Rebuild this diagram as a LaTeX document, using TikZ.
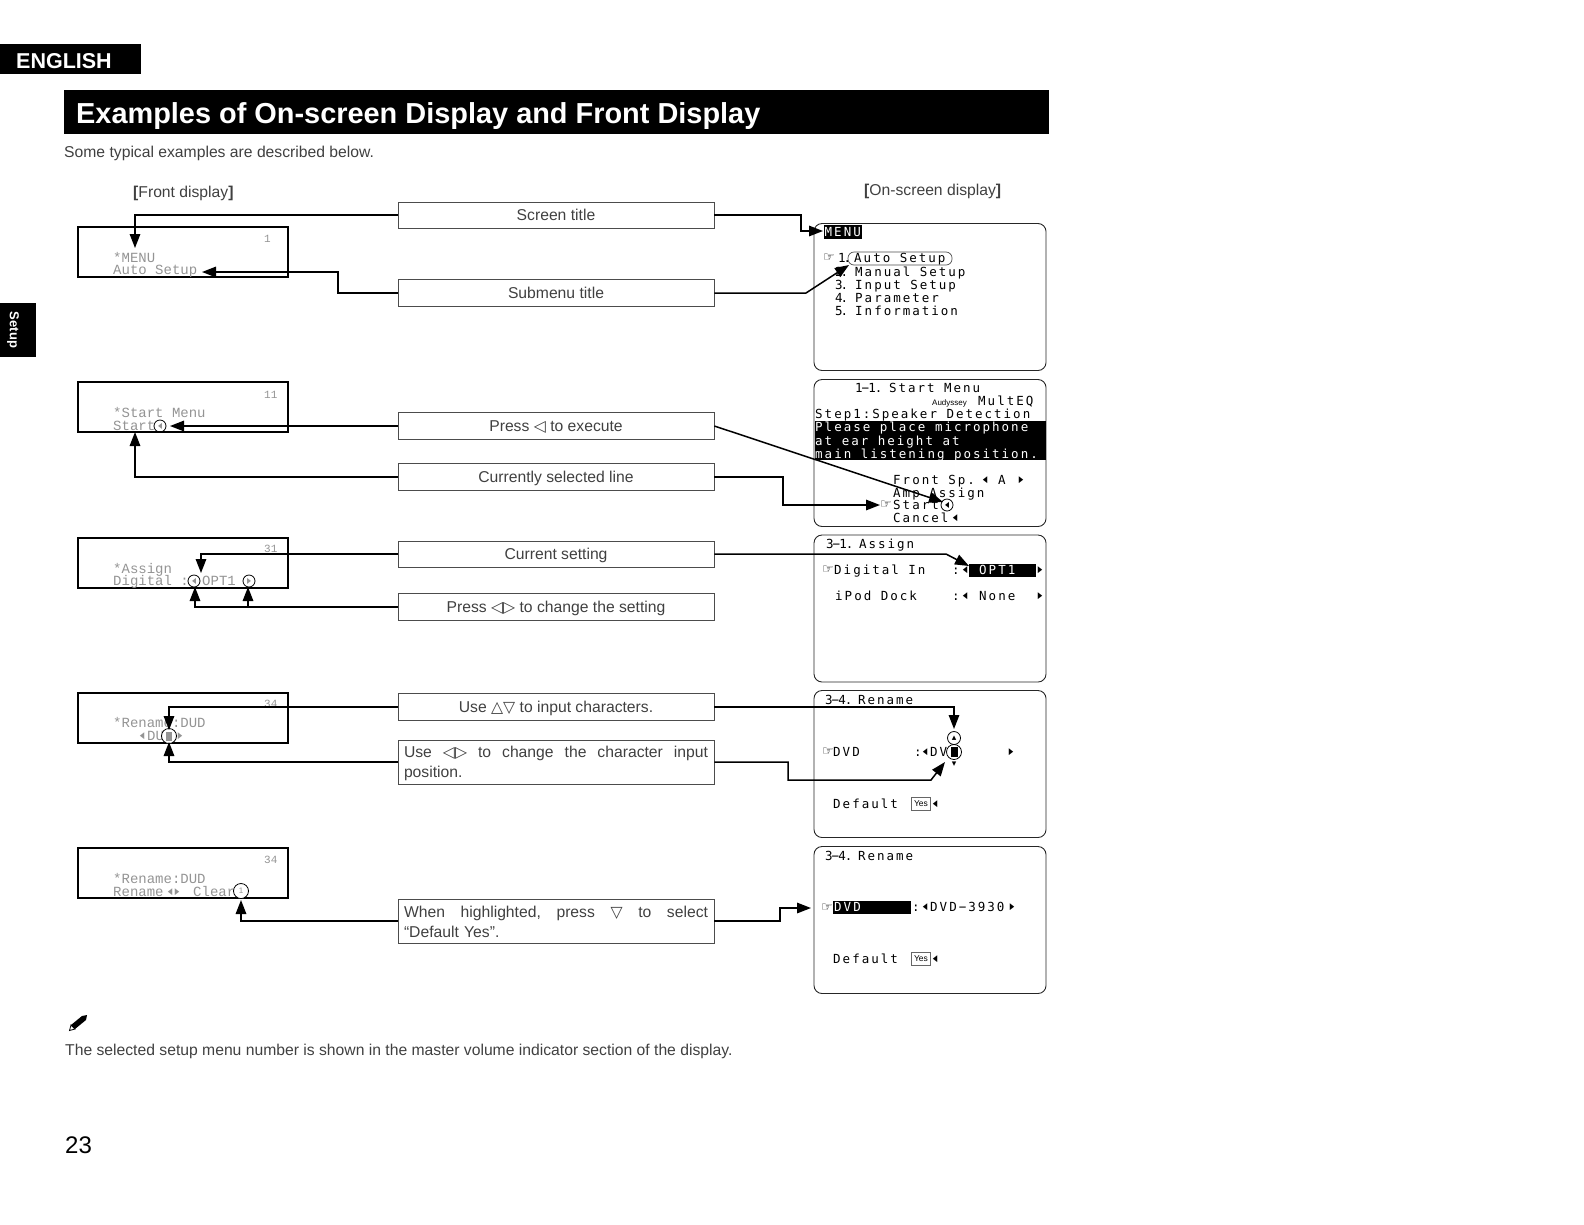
\documentclass[tikz,border=0pt]{standalone}
\usepackage{graphicx}
\usepackage{fontspec}
\setmainfont{Liberation Sans}
\newfontfamily\symfont{DejaVu Sans}
\newfontfamily\osdfont[LetterSpace=16]{DejaVu Sans Mono}
\newfontfamily\vfdfont{Liberation Mono}
\usetikzlibrary{arrows.meta}
\definecolor{inkgray}{gray}{0.25}
\definecolor{vfdgray}{gray}{0.58}
\newcommand{\larr}{\scalebox{.65}[1]{◀}}
\newcommand{\rarr}{\scalebox{.65}[1]{▶}}
\newcommand{\twoline}[1]{\raisebox{-1pt}[\height][\depth]{\parbox{304pt}{\fontsize{15.7}{20}\selectfont #1}}}
\tikzset{
	front/.style={draw=black, line width=1.1pt, minimum width=210pt, minimum height=50pt, inner sep=0pt},
	screen/.style={draw=black!85, line width=0.9pt, rounded corners=8pt, minimum width=232pt, minimum height=147pt, inner sep=0pt},
	caption/.style={draw=black!70, line width=0.7pt, minimum width=316pt, inner sep=0pt, text=inkgray, font=\fontsize{15.7}{20}\selectfont},
	capone/.style={caption, text height=12.5pt, text depth=2.5pt},
	captwo/.style={caption, minimum height=44pt, text width=304pt, align=left},
	conn/.style={line width=1.5pt, -{Triangle[length=14pt,width=10.5pt]}},
	plain/.style={anchor=base west, inner sep=0pt, text=inkgray, font=\fontsize{15.7}{18}\selectfont},
	osd/.style={anchor=base west, inner sep=0pt, yshift=-4.5pt, font=\fontsize{12.5}{14}\osdfont\selectfont},
	vfd/.style={anchor=base west, inner sep=0pt, yshift=-4.5pt, text=vfdgray, font=\fontsize{14}{14}\vfdfont\selectfont},
	vfdnum/.style={vfd, font=\fontsize{11}{11}\vfdfont\selectfont},
	sym/.style={inner sep=0pt, font=\fontsize{9}{9}\symfont\selectfont},
	hand/.style={inner sep=0pt, font=\fontsize{13}{13}\symfont\selectfont},
	ring/.style={circle, draw=black, line width=0.8pt, inner sep=0pt, minimum size=#1},
	vfdring/.style={ring=#1, text=vfdgray, font=\fontsize{8}{8}\symfont\selectfont},
	band/.style={fill=black, inner sep=0pt},
	yesbox/.style={draw=black!60, line width=1pt, minimum width=19pt, minimum height=13pt, inner sep=0pt, font=\fontsize{8.5}{9}\selectfont}
}
\begin{document}
\begin{tikzpicture}[x=1pt,y=-1pt]
	\useasboundingbox (0,0) rectangle (1584,1224);

	% Page head
	\fill (0,44) rectangle (141,74);
	\node[anchor=base west, inner sep=0pt, text=white, font=\fontsize{21.5}{26}\bfseries\selectfont] (lang) at (16,68.5) {ENGLISH};
	\fill (64,90) rectangle (1049,134);
	\node[anchor=base west, inner sep=0pt, text=white, font=\fontsize{28.9}{32}\bfseries\selectfont] (title) at (76,123) {Examples of On-screen Display and Front Display};
	\fill (0,303) rectangle (36,357);
	\node[rotate=-90, inner sep=0pt, text=white, font=\fontsize{13}{14}\bfseries\selectfont] (tab) at (13,330) {Setup};
	\node[plain] (intro) at (64,157) {Some typical examples are described below.};
	\node[plain] (fronthead) at (133,197) {{\bfseries[}Front display{\bfseries]}};
	\node[plain] (osdhead) at (864,195) {{\bfseries[}On-screen display{\bfseries]}};

	% Front display panels
	\node[front] (fronta) at (183,252) {};
	\node[front] (frontb) at (183,407) {};
	\node[front] (frontc) at (183,563) {};
	\node[front] (frontd) at (183,718) {};
	\node[front] (fronte) at (183,873) {};

	\node[vfd] (faa) at (113,258) {*MENU};
	\node[vfd] (fab) at (113,270) {Auto Setup};
	\node[vfdnum] (fac) at (264,238) {1};
	\node[vfd] (fba) at (113,413) {*Start Menu};
	\node[vfd] (fbb) at (113,426) {Start};
	\node[vfdring=12pt] (fbr) at (160,426) {\larr};
	\node[vfdnum] (fbc) at (264,394) {11};
	\node[vfd] (fca) at (113,569) {*Assign};
	\node[vfd] (fcb) at (113,581) {Digital :};
	\node[vfdring=12pt] (fcl) at (194,581) {\larr};
	\node[vfd] (fcd) at (202,581) {OPT1};
	\node[vfdring=12pt] (fcr) at (249,581) {\rarr};
	\node[vfdnum] (fcc) at (264,548) {31};
	\node[vfd] (fda) at (113,723) {*Rename:DUD};
	\node[sym, text=vfdgray] (fdl) at (142,736) {\larr};
	\node[vfd] (fdb) at (147,736) {DU};
	\node[ring=15pt, fill=white] (fdr) at (169,736) {};
	\node[inner sep=0pt, fill=vfdgray, minimum width=6pt, minimum height=9pt] (fdf) at (169,736) {};
	\node[sym, text=vfdgray] (fdg) at (180,736) {\rarr};
	\node[vfdnum] (fdc) at (264,703) {34};
	\node[vfd] (fea) at (113,879) {*Rename:DUD};
	\node[vfd] (feb) at (113,892) {Rename};
	\node[sym, text=vfdgray] (fel) at (170,892) {\larr};
	\node[sym, text=vfdgray] (fem) at (177,892) {\rarr};
	\node[vfd] (fen) at (193,892) {Clear};
	\node[ring=15pt, font=\fontsize{8}{8}\selectfont, text=vfdgray, fill=white] (fer) at (241,891) {1};
	\node[vfdnum] (fec) at (264,859) {34};

	% Captions in the middle
	\node[capone, minimum height=26pt] (sctitle) at (556,215) {Screen title};
	\node[capone, minimum height=27pt] (submenu) at (556,293) {Submenu title};
	\node[capone, minimum height=27pt] (execute) at (556,426) {Press {\symfont◁} to execute};
	\node[capone, minimum height=27pt] (selected) at (556,477) {Currently selected line};
	\node[capone, minimum height=26pt] (setting) at (556,554) {Current setting};
	\node[capone, minimum height=27pt] (change) at (556,607) {Press {\symfont◁▷} to change the setting};
	\node[capone, minimum height=27pt] (charinput) at (556,707) {Use {\symfont△▽} to input characters.};
	\node[captwo] (position) at (556,762) {\twoline{Use\hfill{\symfont◁▷}\hfill to\hfill change\hfill the\hfill character\hfill input\\position.}};
	\node[captwo] (highlight) at (556,921) {\twoline{When\hfill highlighted,\hfill press\hfill{\symfont▽}\hfill to\hfill select\\“Default Yes”.}};

	% On-screen panels
	\node[screen] (scra) at (930,297) {};
	\node[screen] (scrb) at (930,453) {};
	\node[screen] (scrc) at (930,608.5) {};
	\node[screen] (scrd) at (930,764) {};
	\node[screen] (scre) at (930,920) {};

	% Menu screen
	\node[band, minimum width=38pt, minimum height=14pt] (mband) at (843,232) {};
	\node[osd, text=white] (mtitle) at (824.5,232) {MENU};
	\node[hand] (mhand) at (829,258) {☞};
	\node[osd] (mone) at (838,258) {1\kern-2pt.};
	\node[osd] (mtwo) at (854,258) {Auto Setup};
	\node[draw=black!70, line width=0.7pt, rounded corners=6pt, minimum width=104pt, minimum height=13pt, inner sep=0pt] (moval) at (900,258.5) {};
	\foreach \y/\k/\t [count=\i] in {272/2/Manual Setup, 285/3/Input Setup, 298/4/Parameter, 311/5/Information}{
		\node[osd] (mnum\i) at (835,\y) {\k\kern-2pt.};
		\node[osd] (mline\i) at (855,\y) {\t};
	}

	% Start menu screen
	\node[osd] (sa) at (855,388) {1\kern-1pt−\kern-1pt1\kern-1pt.\kern-6pt{} Start Menu};
	\node[osd, font=\fontsize{8}{9}\selectfont] (sb) at (932,401) {Audyssey};
	\node[osd] (sc) at (978,401) {MultEQ};
	\node[osd] (sd) at (815,414) {Step1:Speaker Detection};
	\node[band, minimum width=231pt, minimum height=39pt] (sband) at (930,440) {};
	\foreach \y/\t [count=\i] in {427/Please place microphone, 441/at ear height at, 454/main listening position.}{
		\node[osd, text=white] (sw\i) at (815,\y) {\t};
	}
	\node[osd] (se) at (893,480) {Front Sp.};
	\node[sym] (sel) at (985,480) {\larr};
	\node[osd] (sea) at (998,480) {A};
	\node[sym] (ser) at (1021,480) {\rarr};
	\node[osd] (sf) at (893,493) {Amp Assign};
	\node[hand] (shand) at (886,505) {☞};
	\node[osd] (sg) at (893,505) {Start};
	\node[ring=12pt, font=\fontsize{8}{8}\symfont\selectfont] (sgr) at (947,505) {\larr};
	\node[osd] (sh) at (893,518) {Cancel};
	\node[sym] (shl) at (955,518) {\larr};

	% Assign screen
	\node[osd] (aa) at (826,544) {3\kern-1pt−\kern-1pt1\kern-1pt.\kern-7pt{} Assign};
	\node[hand] (ahand) at (828,570) {☞};
	\node[osd] (ab) at (834,570) {Digital In};
	\node[osd] (abc) at (952,570) {:};
	\node[sym] (abl) at (965,570) {\larr};
	\node[band, minimum width=67pt, minimum height=13pt] (aband) at (1002.5,570) {};
	\node[osd, text=white] (abv) at (979,570) {OPT1};
	\node[sym] (abr) at (1040,570) {\rarr};
	\node[osd] (ac) at (835,596) {iPod Dock};
	\node[osd] (acc) at (952,596) {:};
	\node[sym] (acl) at (965,596) {\larr};
	\node[osd] (acv) at (979,596) {None};
	\node[sym] (acr) at (1040,596) {\rarr};

	% Rename screens
	\node[osd] (ra) at (825,700) {3\kern-1pt−\kern-1pt4\kern-1pt.\kern-7pt{} Rename};
	\node[hand] (rhand) at (828,752) {☞};
	\node[osd] (rb) at (833,752) {DVD};
	\node[osd] (rbc) at (914,752) {:};
	\node[sym] (rbl) at (925,752) {\larr};
	\node[osd] (rbv) at (930,752) {DV};
	\node[ring=15pt, fill=white] (rbr) at (954,752) {};
	\node[band, minimum width=7pt, minimum height=10pt] (rbf) at (954,752) {};
	\node[ring=13pt, font=\fontsize{9}{9}\symfont\selectfont] (rbu) at (954,738) {▴};
	\node[sym] (rbd) at (954,764) {▾};
	\node[sym] (rbe) at (1011,752) {\rarr};
	\node[osd] (rc) at (833,804) {Default};
	\node[yesbox] (ry) at (921,804) {Yes};
	\node[sym] (ryl) at (935,804) {\larr};

	\node[osd] (ta) at (825,856) {3\kern-1pt−\kern-1pt4\kern-1pt.\kern-7pt{} Rename};
	\node[hand] (thand) at (827,908) {☞};
	\node[band, minimum width=78pt, minimum height=13pt] (tband) at (872,907) {};
	\node[osd, text=white] (tb) at (834,907) {DVD};
	\node[osd] (tbc) at (912,907) {:};
	\node[sym] (tbl) at (925,907) {\larr};
	\node[osd] (tbv) at (930,907) {DVD−3930};
	\node[sym] (tbr) at (1012,907) {\rarr};
	\node[osd] (tc) at (833,959) {Default};
	\node[yesbox] (ty) at (921,959) {Yes};
	\node[sym] (tyl) at (935,959) {\larr};

	% Free ends of the connectors
	\coordinate (tipa) at (135,248);
	\coordinate (tipb) at (202,272);
	\coordinate (tipc) at (170,426);
	\coordinate (tipd) at (135,432);
	\coordinate (tipe) at (201,573);
	\coordinate (tipf) at (195,587);
	\coordinate (tipg) at (248,587);
	\coordinate (tiph) at (169,730);
	\coordinate (tipi) at (169,742);
	\coordinate (tipj) at (241,900);
	\coordinate (bendb) at (338,272);
	\coordinate (rtipa) at (823,231);
	\coordinate (rbenda) at (801,215);
	\coordinate (rbendb) at (806,293);
	\coordinate (rtipb) at (849,265);
	\coordinate (rtipc) at (943,502);
	\coordinate (rtipd) at (880,505);
	\coordinate (rbendd) at (783,477);
	\coordinate (rbende) at (946,554);
	\coordinate (rtipe) at (969,566);
	\coordinate (rtiph) at (954,729);
	\coordinate (rbendg) at (788,762);
	\coordinate (rbendh) at (788,780);
	\coordinate (rbendi) at (931,780);
	\coordinate (rtipi) at (945,762);
	\coordinate (rbendk) at (780,908);
	\coordinate (rtipj) at (811,908);

	% Left connectors
	\draw[conn] (sctitle.west) -| (tipa);
	\draw[conn] (submenu.west) -| (bendb) -- (tipb);
	\draw[conn] (execute.west) -- (tipc);
	\draw[conn] (selected.west) -| (tipd);
	\draw[conn] (setting.west) -| (tipe);
	\draw[conn] (change.west) -| (tipf);
	\draw[conn] (change.west) -| (tipg);
	\draw[conn] (charinput.west) -| (tiph);
	\draw[conn] (position.west) -| (tipi);
	\draw[conn] (highlight.west) -| (tipj);

	% Right connectors
	\draw[conn] (sctitle.east) -- (rbenda) |- (rtipa);
	\draw[conn] (submenu.east) -- (rbendb) -- (rtipb);
	\draw[conn] (execute.east) -- (rtipc);
	\draw[conn] (selected.east) -- (rbendd) |- (rtipd);
	\draw[conn] (setting.east) -- (rbende) -- (rtipe);
	\draw[conn] (charinput.east) -| (rtiph);
	\draw[conn] (position.east) -- (rbendg) -- (rbendh) -- (rbendi) -- (rtipi);
	\draw[conn] (highlight.east) -| (rbendk) -- (rtipj);

	% Note at the foot of the page
	\draw[line width=0.8pt, fill=white] (69.5,1030.5) -- (71,1025) -- (75,1029) -- cycle;
	\fill (71,1025) -- (82,1016) -- (87,1015) -- (86,1020) -- (75,1029) -- cycle;
	\node[plain] (note) at (65,1055) {The selected setup menu number is shown in the master volume indicator section of the display.};
	\node[anchor=base west, inner sep=0pt, font=\fontsize{24}{26}\selectfont] (page) at (65,1153) {23};
\end{tikzpicture}
\end{document}
